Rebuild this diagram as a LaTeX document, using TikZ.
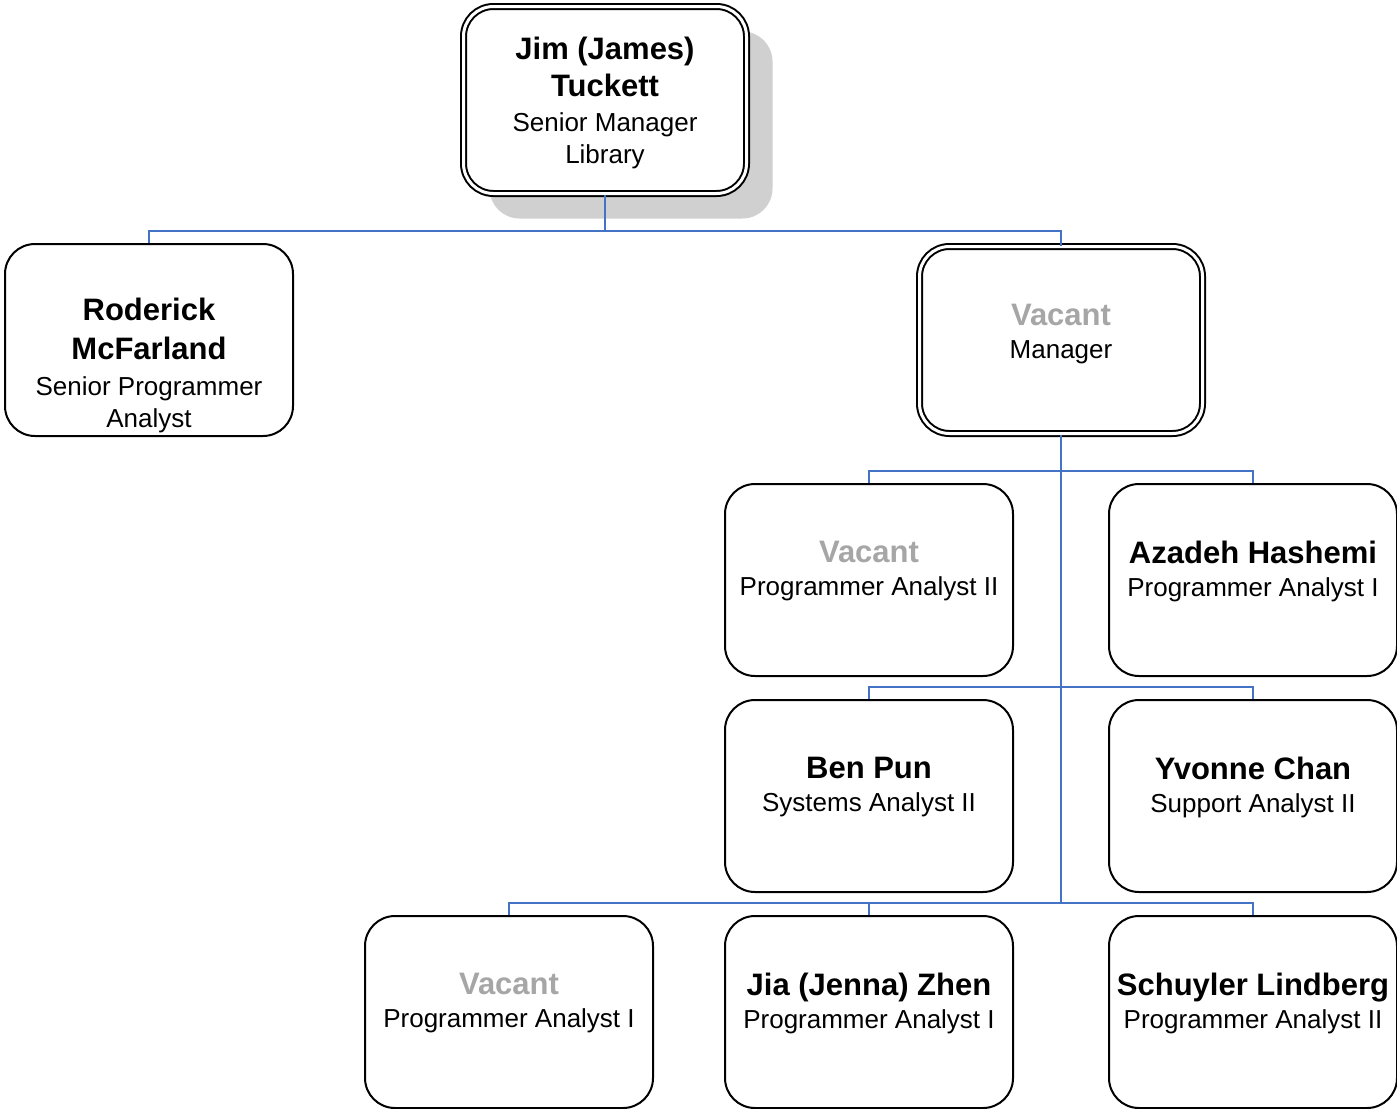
\documentclass[tikz,border=0pt]{standalone}
\usepackage{fontspec}
\setmainfont{Liberation Sans}
\usetikzlibrary{shadows}
\definecolor{linkblue}{HTML}{4472C4}
\definecolor{vacantgray}{HTML}{A6A6A6}
\definecolor{shadowgray}{HTML}{D0D0D0}
\newcommand{\nm}{\fontsize{15.5}{18}\bfseries}
\newcommand{\rl}{\fontsize{13}{16}\mdseries}
\tikzset{
  card/.style={draw, line width=1pt, rounded corners=15pt, fill=white,
    minimum width=144pt, minimum height=96pt, inner sep=0pt},
  headcard/.style={card, double, double distance=1.5pt,
    minimum width=141.5pt, minimum height=93.5pt},
  cardtxt/.style={anchor=north, align=center, inner sep=0pt,
    font=\fontsize{13}{16}\selectfont},
  link/.style={draw=linkblue, line width=0.8pt},
}
\begin{document}
\begin{tikzpicture}[x=0.5pt, y=-0.5pt]
    \useasboundingbox (0,0) rectangle (1397,1108);

    % boxes
    \node[headcard, drop shadow={shadow xshift=13pt, shadow yshift=-12.5pt, fill=shadowgray, opacity=1}] (jim) at (605,100) {};
    \node[card] (rod) at (149,340) {};
    \node[headcard] (mgr) at (1061,340) {};
    \node[card] (vpa2) at (869,580) {};
    \node[card] (aza) at (1253,580) {};
    \node[card] (ben) at (869,796) {};
    \node[card] (yvo) at (1253,796) {};
    \node[card] (vpa1) at (509,1012) {};
    \node[card] (jia) at (869,1012) {};
    \node[card] (sch) at (1253,1012) {};

    % texts
    \node[cardtxt] (jim-t) at ([yshift=-15.5pt]jim.north) {{\nm Jim (James)}\\[2.5pt]{\nm Tuckett}\\[1.5pt]{\rl Senior Manager}\\{\rl Library}};
    \node[cardtxt] (rod-t) at ([yshift=-27.5pt]rod.north) {{\nm Roderick}\\[3.5pt]{\nm McFarland}\\[2pt]{\rl Senior Programmer}\\{\rl Analyst}};
    \node[cardtxt] (mgr-t) at ([yshift=-29pt]mgr.north) {{\nm\color{vacantgray} Vacant}\\[0.5pt]{\rl Manager}};
    \node[cardtxt] (vpa2-t) at ([yshift=-29pt]vpa2.north) {{\nm\color{vacantgray} Vacant}\\[0.5pt]{\rl Programmer Analyst II}};
    \node[cardtxt] (aza-t) at ([yshift=-29pt]aza.north) {{\nm Azadeh Hashemi}\\[0.5pt]{\rl Programmer Analyst I}};
    \node[cardtxt] (ben-t) at ([yshift=-29pt]ben.north) {{\nm Ben Pun}\\[0.5pt]{\rl Systems Analyst II}};
    \node[cardtxt] (yvo-t) at ([yshift=-29pt]yvo.north) {{\nm Yvonne Chan}\\[0.5pt]{\rl Support Analyst II}};
    \node[cardtxt] (vpa1-t) at ([yshift=-29pt]vpa1.north) {{\nm\color{vacantgray} Vacant}\\[0.5pt]{\rl Programmer Analyst I}};
    \node[cardtxt] (jia-t) at ([yshift=-29pt]jia.north) {{\nm Jia (Jenna) Zhen}\\[0.5pt]{\rl Programmer Analyst I}};
    \node[cardtxt] (sch-t) at ([yshift=-29pt]sch.north) {{\nm Schuyler Lindberg}\\[0.5pt]{\rl Programmer Analyst II}};

    % connectors
    \coordinate (bus1) at ([yshift=6pt]rod.north -| jim.south);
    \draw[link] (jim.south) -- (bus1);
    \draw[link] (rod.north) |- (bus1) -| (mgr.north);
    \coordinate (bus4) at ([yshift=6pt]jia.north);
    \draw[link] (mgr.south) -- (mgr.south |- bus4);
    \draw[link] (vpa2.north) -- ([yshift=6pt]vpa2.north) -| (aza.north);
    \draw[link] (ben.north) -- ([yshift=6pt]ben.north) -| (yvo.north);
    \draw[link] (vpa1.north) |- (bus4) -| (sch.north);
    \draw[link] (jia.north) -- (bus4);

\end{tikzpicture}
\end{document}
